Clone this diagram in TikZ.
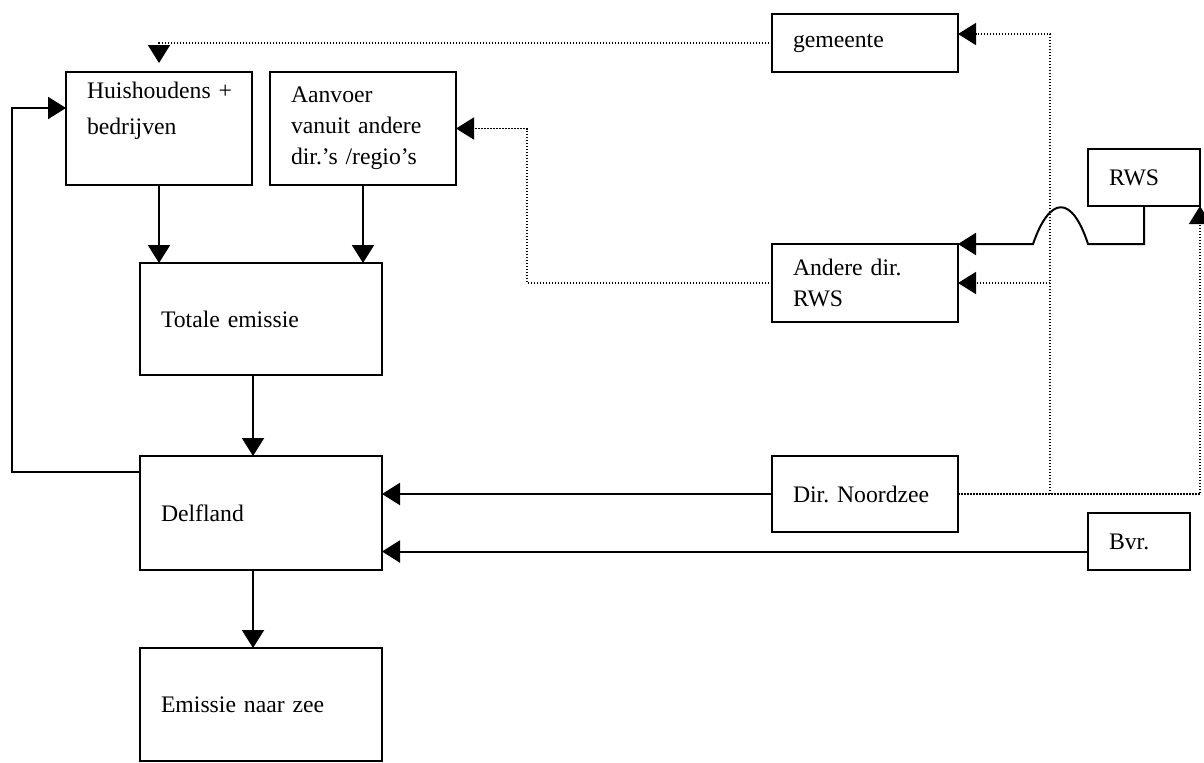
\documentclass[tikz,border=0pt]{standalone}
\usepackage{fontspec}
\setmainfont{Liberation Serif}
\usetikzlibrary{arrows.meta}
\frenchspacing
\tikzset{
	blok/.style 2 args={draw, line width=1pt, rectangle, inner xsep=10.5pt, outer sep=0pt,
		text width=#1, minimum height=#2, align=left,
		font=\fontsize{11.85pt}{15.5pt}\selectfont},
	pijl/.style={line width=1pt, -{Triangle[length=9pt,width=11pt]}},
	stippel/.style={line width=0.75pt, dash pattern=on 0.75pt off 0.75pt},
	stippelpijl/.style={stippel, -{Triangle[length=9pt,width=11pt]}}
}

\begin{document}
\begin{tikzpicture}[x=0.5pt, y=-0.5pt]
\useasboundingbox (0,0) rectangle (1204,762);

\node (huis) [blok={72pt}{56.5pt}] at (159,128.5) {Huishoudens~+\\[2.5pt]bedrijven\\\strut};
\node (aanvoer) [blok={72pt}{56.5pt}] at (363,128.5) {Aanvoer\\vanuit andere\\dir.’s /regio’s};
\node (totaal) [blok={100pt}{56pt}] at (261,319) {Totale emissie};
\node (delfland) [blok={100pt}{57pt}] at (261,513) {Delfland};
\node (zee) [blok={100pt}{56.5pt}] at (261,704.5) {Emissie naar zee};
\node (gemeente) [blok={72pt}{29pt}] at (865,43) {gemeente};
\node (andere) [blok={72pt}{39pt}] at (865,283) {Andere dir.\\RWS};
\node (rws) [blok={35pt}{28.5pt}] at (1144,177.5) {RWS};
\node (noordzee) [blok={72pt}{38pt}] at (865,494) {Dir. Noordzee};
\node (bvr) [blok={30pt}{28.5pt}] at (1139,541.5) {Bvr.};

\draw[pijl] (huis.south) -- (huis.south |- totaal.north);
\draw[pijl] (aanvoer.south) -- (aanvoer.south |- totaal.north);
\draw[pijl] ([xshift=-4pt]totaal.south) -- ([xshift=-4pt]delfland.north);
\draw[pijl] ([xshift=-4pt]delfland.south) -- ([xshift=-4pt]zee.north);

\coordinate (lusOnder) at (12,472);
\coordinate (lusBoven) at (12,108);
\draw[pijl] (delfland.west |- lusOnder) -- (lusOnder) -- (lusBoven) -- (huis.west |- lusBoven);

\draw[pijl] (noordzee.west) -- (delfland.east |- noordzee.west);
\coordinate (bvrIn) at ([yshift=-5pt]bvr.west);
\draw[pijl] (bvrIn) -- (delfland.east |- bvrIn);

\coordinate (hopR) at (1088,244);
\coordinate (hopL) at (1033,244);
\draw[pijl] (rws.south) |- (hopR) .. controls (1072,195) and (1050,195) .. (hopL) -- (andere.north east);

\coordinate (knoopBoven) at (1050,34);
\coordinate (knoopOnder) at (1050,494);
\draw[stippelpijl] (noordzee.east) -| (rws.south east);
\draw[stippelpijl] (knoopOnder) -- (knoopBoven) -- (gemeente.east |- knoopBoven);
\draw[stippelpijl] (knoopOnder |- andere.east) -- (andere.east);
\draw[stippelpijl] (gemeente.west) -| ([yshift=4.5pt]huis.north);
\coordinate (bocht) at (527,200);
\draw[stippelpijl] (andere.west) -| (bocht) |- (aanvoer.east);
\end{tikzpicture}
\end{document}
